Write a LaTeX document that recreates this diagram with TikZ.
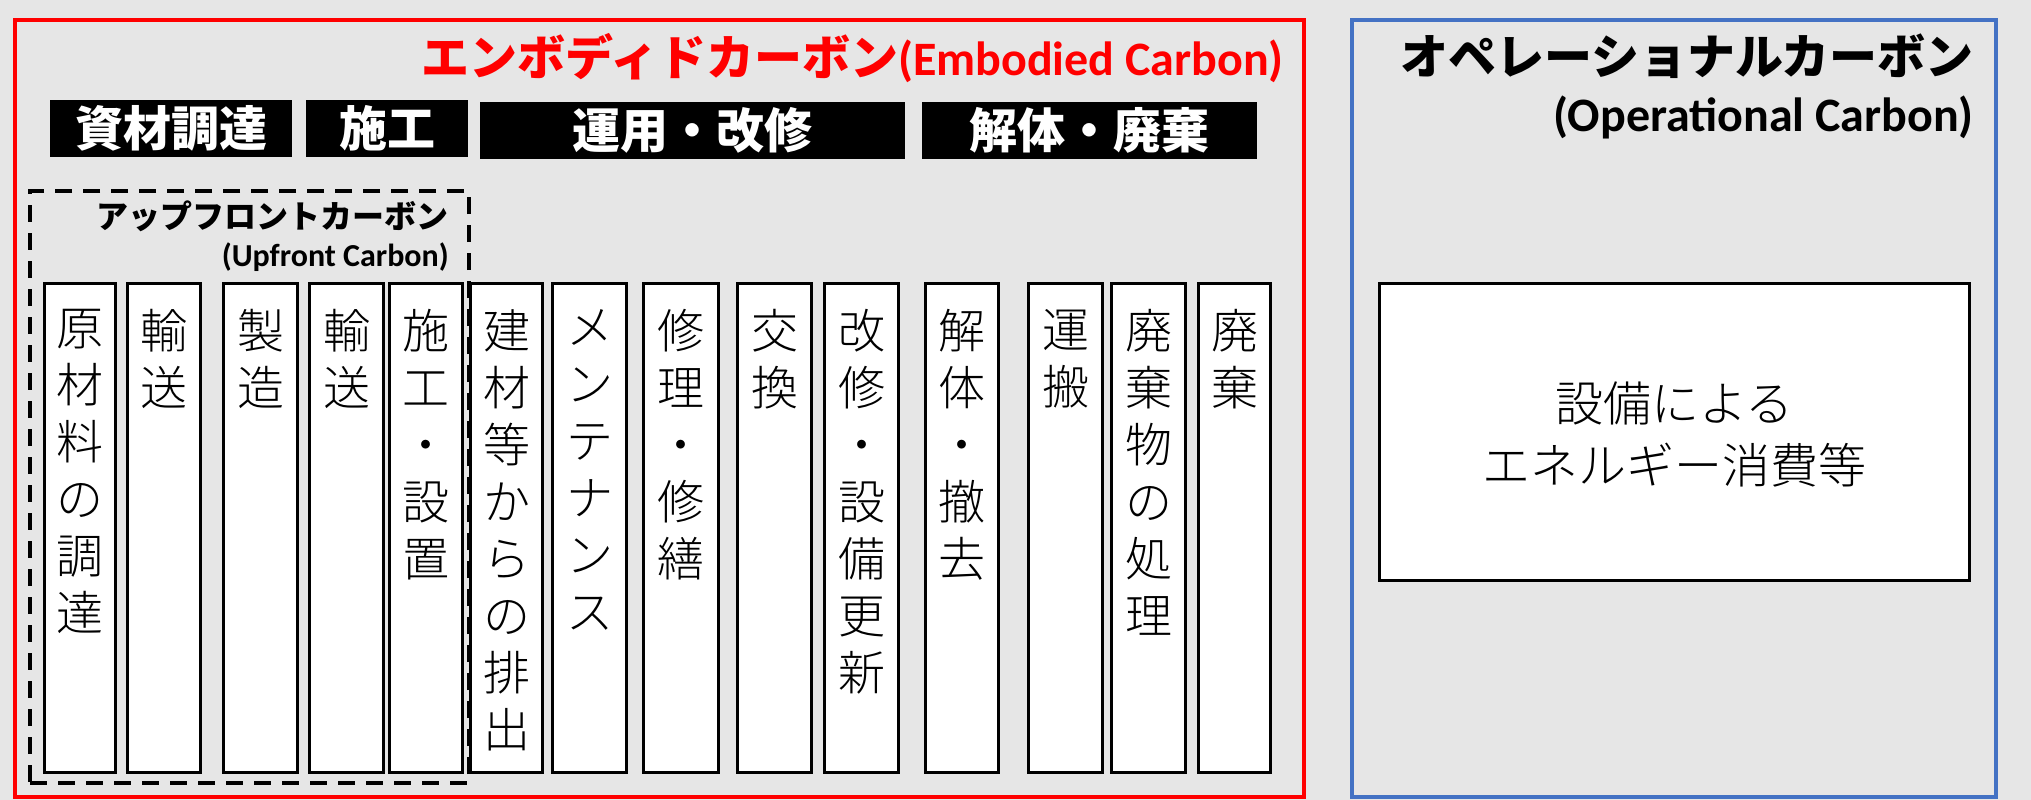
\documentclass[tikz,border=0pt]{standalone}
\usepackage{fontspec}
\setmainfont{Noto Sans CJK JP}
\newfontfamily\enfont{Carlito}
\IfFontExistsTF{Noto Sans CJK JP Light}{\newfontfamily\jplight{Noto Sans CJK JP Light}}{\newfontfamily\jplight{Noto Sans CJK JP}}
\definecolor{bggray}{HTML}{E6E6E6}
\definecolor{embred}{HTML}{FF0000}
\definecolor{opblue}{HTML}{4472C4}
\tikzset{
  embframe/.style={draw=embred, line width=4pt, inner sep=0, anchor=north west},
  opframe/.style={draw=opblue, line width=4pt, inner sep=0, anchor=north west},
  hdrbox/.style={fill=black, text=white, inner sep=0, anchor=north west, minimum height=57pt, font=\bfseries\fontsize{48}{52}\selectfont},
  colbox/.style={draw=black, fill=white, line width=3pt, inner sep=0, anchor=north west, minimum height=489pt},
  coltext/.style={anchor=north, inner sep=0, align=center, font=\jplight\fontsize{47}{57}\selectfont},
  upframe/.style={draw=black, line width=4pt, dash pattern=on 17pt off 11pt, inner sep=0, anchor=north west},
  rtitle/.style={anchor=east, inner sep=0, font=\bfseries\fontsize{48}{56}\selectfont},
}
\newcommand\mkcol[4]{%
  \node[colbox, minimum width=#3pt] (#1) at (#2,282) {};
  \node[coltext] (#1t) at ([yshift=-27pt]#1.north) {#4};}
\begin{document}
\begin{tikzpicture}[x=1pt,y=-1pt]
\fill[bggray] (0,0) rectangle (2031,800);
\useasboundingbox (0,0) rectangle (2031,800);

% frames
\node[embframe, minimum width=1289pt, minimum height=777pt] (emb) at (13,18) {};
\node[opframe, minimum width=644pt, minimum height=777pt] (op) at (1350,18) {};

% titles
\node[rtitle, text=embred] (embtitle) at (1284,58) {エンボディドカーボン{\enfont(Embodied Carbon)}};
\node[rtitle] (optitle) at (1974,56) {オペレーショナルカーボン};
\node[rtitle, font=\enfont\bfseries\fontsize{48}{56}\selectfont] (opsub) at (1974,117) {(Operational Carbon)};

% headers
\node[hdrbox, minimum width=242pt] (h1) at (50,100) {資材調達};
\node[hdrbox, minimum width=162pt] (h2) at (306,100) {施工};
\node[hdrbox, minimum width=425pt] (h3) at (480,102) {運用・改修};
\node[hdrbox, minimum width=335pt] (h4) at (922,102) {解体・廃棄};

% columns
\mkcol{c1}{43}{71}{原\\材\\料\\の\\調\\達}
\mkcol{c2}{126}{73}{輸\\送}
\mkcol{c3}{222}{74}{製\\造}
\mkcol{c4}{308}{74}{輸\\送}
\mkcol{c5}{388}{73}{施\\工\\・\\設\\置}
\mkcol{c6}{469}{72}{建\\材\\等\\か\\ら\\の\\排\\出}
\mkcol{c7}{551}{74}{メ\\ン\\テ\\ナ\\ン\\ス}
\mkcol{c8}{642}{75}{修\\理\\・\\修\\繕}
\mkcol{c9}{736}{74}{交\\換}
\mkcol{c10}{823}{74}{改\\修\\・\\設\\備\\更\\新}
\mkcol{c11}{924}{73}{解\\体\\・\\撤\\去}
\mkcol{c12}{1027}{74}{運\\搬}
\mkcol{c13}{1110}{74}{廃\\棄\\物\\の\\処\\理}
\mkcol{c14}{1197}{72}{廃\\棄}

% upfront carbon
\node[upframe, minimum width=439pt, minimum height=592pt] (upf) at (28,189) {};
\node[anchor=east, inner sep=0, font=\bfseries\fontsize{32}{36}\selectfont] (uplabel) at (449,216) {アップフロントカーボン};
\node[anchor=east, inner sep=0, font=\enfont\bfseries\fontsize{32}{36}\selectfont] (upsub) at (449,257) {(Upfront Carbon)};

% operational box
\node[colbox, minimum width=590pt, minimum height=297pt] (opbox) at (1378,282) {};
\node[inner sep=0, align=center, font=\jplight\fontsize{48}{62}\selectfont] (optext) at ([yshift=-2pt]opbox.center) {設備による\\エネルギー消費等};
\end{tikzpicture}
\end{document}
